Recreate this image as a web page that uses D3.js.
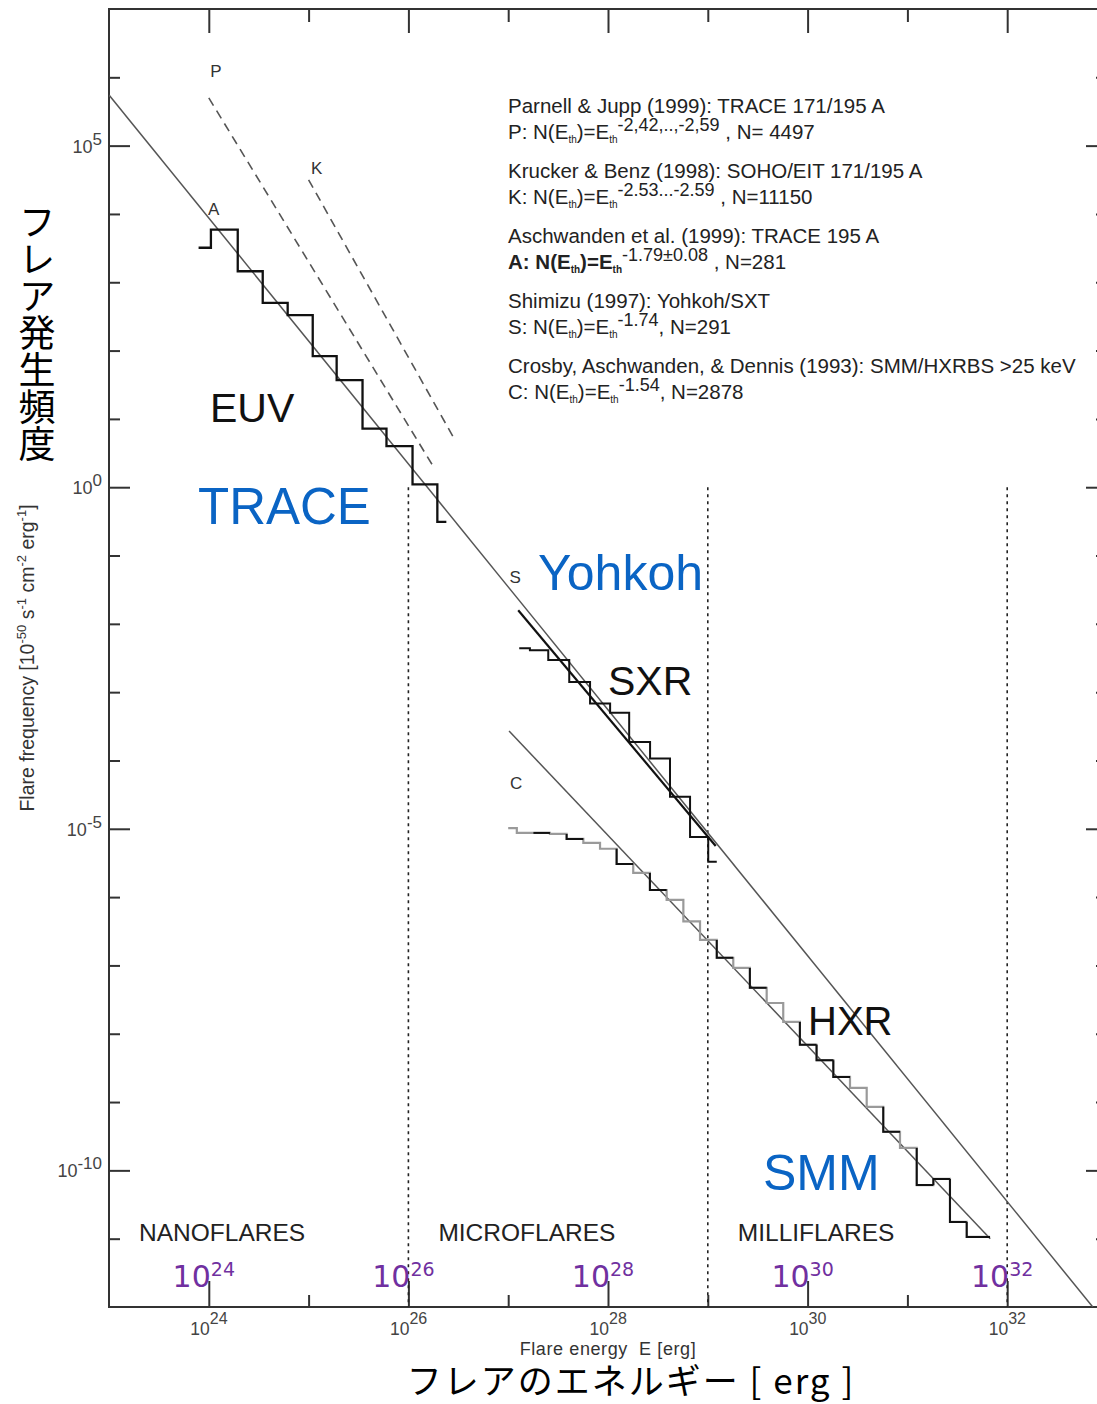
<!DOCTYPE html>
<html>
<head>
<meta charset="utf-8">
<script src="https://cdn.jsdelivr.net/npm/d3@7"></script>
<style>
  body { margin: 0; background: #fff; }
  svg { display: block; }
</style>
</head>
<body>
<svg id="chart" width="1097" height="1404"></svg>
<script>
// ---------------- data ----------------
// tick positions (energy in erg, frequency in 1e-50 s^-1 cm^-2 erg^-1)
const energyMajor = [1e24, 1e26, 1e28, 1e30, 1e32];
const energyMinor = [1e25, 1e27, 1e29, 1e31];
const energyMajorExp = ["24", "26", "28", "30", "32"];
const freqMajor = [1e5, 1, 1e-5, 1e-10];
const freqMajorExp = ["5", "0", "-5", "-10"];
const freqMinor = [1e6, 1e4, 1e3, 1e2, 1e1, 1e-1, 1e-2, 1e-3, 1e-4, 1e-6, 1e-7, 1e-8, 1e-9, 1e-11];

// regime boundaries and names
const regimeStart = [1e23, 1e26, 1e29];
const regimeNames = ["NANOFLARES", "MICROFLARES", "MILLIFLARES"];
const regimeBounds = [1e26, 1e29, 1e32];

// EUV (TRACE 195 A) histogram: bin edges and frequencies
const euvEdges = [7.9e23, 1.05e24, 1.95e24, 3.47e24, 6.17e24, 1.10e25, 1.91e25, 3.47e25, 6.03e25, 1.10e26, 1.95e26, 2.40e26];
const euvFreq  = [3.2e3, 5.9e3, 1.45e3, 5.0e2, 3.3e2, 83, 37, 7.2, 4.0, 1.1, 0.31];

// SXR (Yohkoh/SXT) histogram
const sxrEdges = [1.29e27, 1.65e27, 2.52e27, 4.09e27, 6.61e27, 1.05e28, 1.63e28, 2.64e28, 4.18e28, 6.64e28, 1.01e29, 1.23e29];
const sxrFreq  = [4.4e-3, 4.1e-3, 2.95e-3, 1.41e-3, 6.8e-4, 5.0e-4, 1.86e-4, 1.07e-4, 2.95e-5, 7.6e-6, 3.3e-6];

// HXR (SMM/HXRBS) histogram
const hxrEdges = [1.00e27, 1.22e27, 1.79e27, 2.62e27, 3.85e27, 5.66e27, 8.32e27, 1.22e28, 1.79e28, 2.63e28,
                  3.87e28, 5.69e28, 8.36e28, 1.23e29, 1.80e29, 2.64e29, 3.89e29, 5.70e29, 8.37e29, 1.23e30,
                  1.81e30, 2.66e30, 3.91e30, 5.73e30, 8.43e30, 1.24e31, 1.82e31, 2.67e31, 3.93e31, 6.73e31];
const hxrFreq  = [1.02e-5, 8.7e-6, 8.7e-6, 8.4e-6, 7.1e-6, 6.2e-6, 5.1e-6, 3.05e-6, 2.26e-6, 1.27e-6,
                  9.1e-7, 4.4e-7, 2.36e-7, 1.29e-7, 9.2e-8, 4.7e-8, 2.82e-8, 1.49e-8, 6.9e-9, 4.1e-9,
                  2.33e-9, 1.61e-9, 8.5e-10, 3.66e-10, 2.13e-10, 6.1e-11, 7.5e-11, 1.76e-11, 1.06e-11];
// bins where the second (dark) HXR histogram shows on top of the grey one
const hxrDarkBins = [2, 4, 7, 9, 13, 15, 18, 19, 20, 23, 25, 26, 27, 28];

// power-law fits: start/end energies and frequencies
const fitIds    = ["P", "K", "A", "S", "C"];
const fitE      = [[1.0e24, 1.78e26], [1.0e25, 2.82e26], [1e23, 7.2e32], [1.26e27, 1.20e29], [1.02e27, 6.76e31]];
const fitN      = [[5.0e5, 2.0], [3.16e4, 5.4], [5.5e5, 1e-12], [1.58e-2, 5.6e-6], [2.7e-4, 1.0e-11]];
const fitDashed = [true, true, false, false, false];

// legend
const legendRefs = [
  "Parnell & Jupp (1999): TRACE 171/195 A",
  "Krucker & Benz (1998): SOHO/EIT 171/195 A",
  "Aschwanden et al. (1999): TRACE 195 A",
  "Shimizu (1997): Yohkoh/SXT",
  "Crosby, Aschwanden, & Dennis (1993): SMM/HXRBS >25 keV"
];
const legendSlopes = ["-2,42,..,-2,59", "-2.53...-2.59", "-1.79\u00b10.08", "-1.74", "-1.54"];
const legendCounts = [" , N= 4497", " , N=11150", " , N=281", ", N=291", ", N=2878"];

// ---------------- layout ----------------
const svg = d3.select("#chart");
const plot = { left: 109, right: 1107, top: 9, bottom: 1307 };
const x = d3.scaleLog().domain([1e23, 1e33]).range([plot.left, plot.right]);
const y = d3.scaleLog().domain([1e-12, 1e7]).range([plot.bottom, plot.top]);

const SANS = "'Liberation Sans', Arial, Helvetica, sans-serif";
const INK = "#222";
const BLUE = "#0a64c4";
const PURPLE = "#7030a0";

svg.append("defs").append("clipPath").attr("id", "plotclip")
  .append("rect")
  .attr("x", plot.left).attr("y", plot.top)
  .attr("width", plot.right - plot.left).attr("height", plot.bottom - plot.top);

// ---------------- frame and ticks ----------------
svg.append("rect")
  .attr("x", plot.left).attr("y", plot.top)
  .attr("width", plot.right - plot.left).attr("height", plot.bottom - plot.top)
  .attr("fill", "none").attr("stroke", "#333").attr("stroke-width", 2);

function tickRow(axis, transform, values, size) {
  const g = svg.append("g").attr("transform", transform)
    .call(axis.tickValues(values).tickSize(size).tickFormat(""));
  g.select(".domain").remove();
  g.selectAll(".tick line").attr("stroke", "#333").attr("stroke-width", 2);
}
tickRow(d3.axisBottom(x), `translate(0,${plot.bottom})`, energyMajor, -26);
tickRow(d3.axisBottom(x), `translate(0,${plot.bottom})`, energyMinor, -12);
tickRow(d3.axisTop(x), `translate(0,${plot.top})`, energyMajor, -24);
tickRow(d3.axisTop(x), `translate(0,${plot.top})`, energyMinor, -13);
tickRow(d3.axisLeft(y), `translate(${plot.left},0)`, freqMajor, -21);
tickRow(d3.axisLeft(y), `translate(${plot.left},0)`, freqMinor, -11);
tickRow(d3.axisRight(y), `translate(${plot.right},0)`, freqMajor, -21);
tickRow(d3.axisRight(y), `translate(${plot.right},0)`, freqMinor, -11);

// energy tick labels
const xLab = svg.append("g").attr("font-family", SANS).attr("fill", "#444");
energyMajor.forEach((e, i) => {
  xLab.append("text").attr("x", x(e) + 1).attr("y", plot.bottom + 28)
    .attr("text-anchor", "end").attr("font-size", 17.5).text("10");
  xLab.append("text").attr("x", x(e) + 1).attr("y", plot.bottom + 17)
    .attr("text-anchor", "start").attr("font-size", 16).text(energyMajorExp[i]);
});

// frequency tick labels
const yLab = svg.append("g").attr("font-family", SANS).attr("fill", "#444");
freqMajor.forEach((n, i) => {
  const t = yLab.append("text").attr("x", 102).attr("y", y(n) + 7)
    .attr("text-anchor", "end").attr("font-size", 18);
  t.append("tspan").text("10");
  t.append("tspan").attr("font-size", 17).attr("dy", -8).text(freqMajorExp[i]);
});

// ---------------- regime separators ----------------
svg.append("g").selectAll("line").data(regimeBounds).join("line")
  .attr("x1", d => x(d)).attr("x2", d => x(d))
  .attr("y1", y(1)).attr("y2", plot.bottom)
  .attr("stroke", "#222").attr("stroke-width", 1.6)
  .attr("stroke-dasharray", "3,4");

svg.append("g").attr("font-family", SANS).attr("font-size", 24.5).attr("fill", INK)
  .selectAll("text").data(regimeNames).join("text")
  .attr("x", (d, i) => x(regimeStart[i]) + 30).attr("y", plot.bottom - 66)
  .text(d => d);

// ---------------- fits ----------------
const lineGen = d3.line().x(d => x(d[0])).y(d => y(d[1]));
const fitG = svg.append("g").attr("clip-path", "url(#plotclip)").attr("fill", "none");
fitIds.forEach((id, i) => {
  const pts = [[fitE[i][0], fitN[i][0]], [fitE[i][1], fitN[i][1]]];
  const p = fitG.append("path").attr("d", lineGen(pts));
  if (fitDashed[i]) {
    p.attr("stroke", "#555").attr("stroke-width", 1.6).attr("stroke-dasharray", "9,6");
  } else if (id === "S") {
    p.attr("stroke", "#111").attr("stroke-width", 2.2);
  } else {
    p.attr("stroke", "#555").attr("stroke-width", 1.5);
  }
});

// ---------------- histograms ----------------
const stepGen = d3.line().x(d => x(d[0])).y(d => y(d[1])).curve(d3.curveStepAfter);
function stepPoints(edges, vals) {
  const pts = vals.map((v, i) => [edges[i], v]);
  pts.push([edges[edges.length - 1], vals[vals.length - 1]]);
  return pts;
}
const histG = svg.append("g").attr("fill", "none");
histG.append("path").attr("d", stepGen(stepPoints(hxrEdges, hxrFreq)))
  .attr("stroke", "#9a9a9a").attr("stroke-width", 2.2);
histG.selectAll("path.dark").data(hxrDarkBins).join("path").attr("class", "dark")
  .attr("d", i => {
    const prev = i > 0 ? hxrFreq[i - 1] : hxrFreq[i];
    return `M${x(hxrEdges[i])},${y(prev)}L${x(hxrEdges[i])},${y(hxrFreq[i])}L${x(hxrEdges[i + 1])},${y(hxrFreq[i])}`;
  })
  .attr("stroke", "#111").attr("stroke-width", 2);
histG.append("path").attr("d", stepGen(stepPoints(sxrEdges, sxrFreq)))
  .attr("stroke", "#111").attr("stroke-width", 2);
histG.append("path").attr("d", stepGen(stepPoints(euvEdges, euvFreq)))
  .attr("stroke", "#111").attr("stroke-width", 2.3);

// ---------------- fit identifiers ----------------
const idOffsets = { P: [7, -21], K: [8, -6], A: [15, -33], S: [-3, -27], C: [7, 58] };
const idG = svg.append("g").attr("font-family", SANS).attr("font-size", 17).attr("fill", "#333")
  .attr("text-anchor", "middle");
fitIds.forEach((id, i) => {
  const px = id === "A" ? x(euvEdges[0]) : x(fitE[i][0]);
  const py = id === "A" ? y(euvFreq[0]) : y(fitN[i][0]);
  idG.append("text").attr("x", px + idOffsets[id][0]).attr("y", py + idOffsets[id][1]).text(id);
});

// ---------------- legend ----------------
const leg = svg.append("g").attr("font-family", SANS).attr("fill", INK);
legendRefs.forEach((ref, i) => {
  const y0 = 113 + i * 65;
  leg.append("text").attr("x", 508).attr("y", y0).attr("font-size", 20.5).text(ref);
  const t = leg.append("text").attr("x", 508).attr("y", y0 + 26).attr("font-size", 20.5)
    .attr("font-weight", fitIds[i] === "A" ? "bold" : null);
  t.append("tspan").text(`${fitIds[i]}: N(E`);
  t.append("tspan").attr("font-size", 10).attr("dy", 4).text("th");
  t.append("tspan").attr("dy", -4).text(")=E");
  t.append("tspan").attr("font-size", 10).attr("dy", 4).text("th");
  t.append("tspan").attr("font-size", 18).attr("font-weight", "normal").attr("dy", -12).text(legendSlopes[i]);
  t.append("tspan").attr("font-weight", "normal").attr("dy", 8).text(legendCounts[i]);
});

// ---------------- band labels ----------------
const bands = svg.append("g").attr("font-family", SANS);
bands.append("text").attr("x", 210).attr("y", 422).attr("font-size", 41).attr("fill", "#111").text("EUV");
bands.append("text").attr("x", 198).attr("y", 524).attr("font-size", 51).attr("fill", BLUE).text("TRACE");
bands.append("text").attr("x", 538).attr("y", 590).attr("font-size", 50).attr("fill", BLUE).text("Yohkoh");
bands.append("text").attr("x", 608).attr("y", 695).attr("font-size", 41).attr("fill", "#111").text("SXR");
bands.append("text").attr("x", 808).attr("y", 1035).attr("font-size", 40).attr("fill", "#111").text("HXR");
bands.append("text").attr("x", 763).attr("y", 1190).attr("font-size", 50).attr("fill", BLUE).text("SMM");

// large energy labels above the axis
const big = svg.append("g").attr("font-family", "'DejaVu Sans', sans-serif").attr("fill", PURPLE);
energyMajor.forEach((e, i) => {
  const t = big.append("text").attr("x", x(e) - 5).attr("y", 1287)
    .attr("text-anchor", "middle").attr("font-size", 30);
  t.append("tspan").text("10");
  t.append("tspan").attr("font-size", 19).attr("dy", -11).text(energyMajorExp[i]);
});

// ---------------- axis titles ----------------
svg.append("text").attr("x", 608).attr("y", 1355).attr("text-anchor", "middle")
  .attr("font-family", SANS).attr("font-size", 18).attr("letter-spacing", 0.6).attr("fill", "#333")
  .attr("xml:space", "preserve").style("white-space", "pre")
  .text("Flare energy  E [erg]");

const yt = svg.append("text").attr("transform", "translate(34,658) rotate(-90)")
  .attr("text-anchor", "middle").attr("font-family", SANS).attr("font-size", 19.5).attr("fill", "#333");
yt.append("tspan").text("Flare frequency [10");
yt.append("tspan").attr("font-size", 13).attr("dy", -8).text("-50");
yt.append("tspan").attr("dy", 8).text(" s");
yt.append("tspan").attr("font-size", 13).attr("dy", -8).text("-1");
yt.append("tspan").attr("dy", 8).text(" cm");
yt.append("tspan").attr("font-size", 13).attr("dy", -8).text("-2");
yt.append("tspan").attr("dy", 8).text(" erg");
yt.append("tspan").attr("font-size", 13).attr("dy", -8).text("-1");
yt.append("tspan").attr("dy", 8).text("]");

svg.append("text").attr("x", 631).attr("y", 1394).attr("text-anchor", "middle")
  .attr("font-family", "'Noto Sans CJK JP', sans-serif").attr("font-size", 35).attr("letter-spacing", 2)
  .attr("fill", "#000")
  .text("フレアのエネルギー [ erg ]");

svg.append("text").attr("x", 37).attr("y", 203)
  .attr("font-family", "'Noto Sans CJK JP', sans-serif").attr("font-size", 37).attr("fill", "#000")
  .style("writing-mode", "vertical-rl").style("text-orientation", "upright")
  .text("フレア発生頻度");
</script>
</body>
</html>
